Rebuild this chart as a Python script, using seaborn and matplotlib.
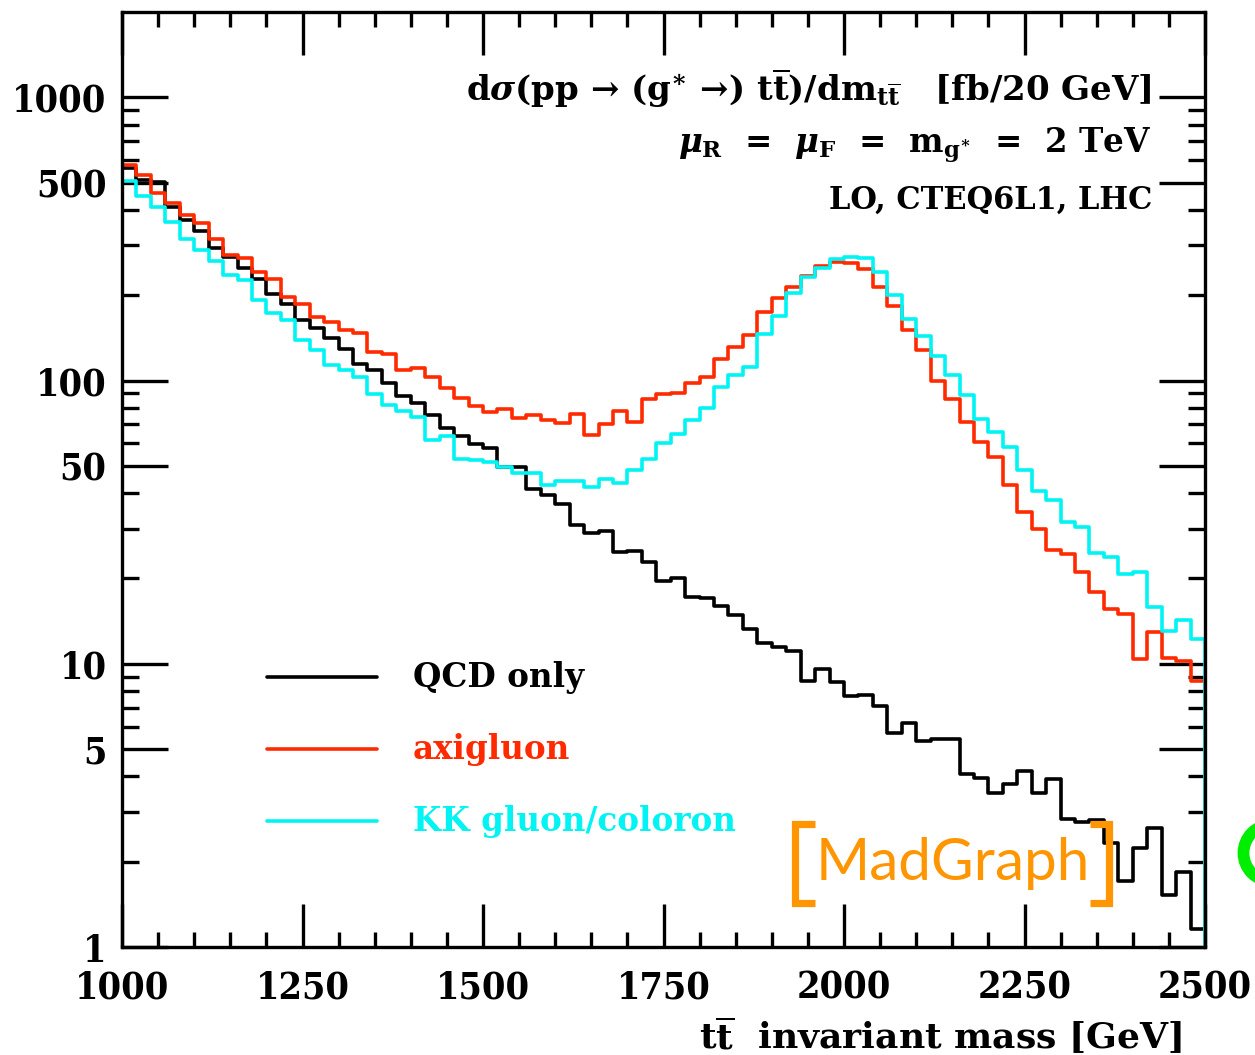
import numpy as np
import pandas as pd
import matplotlib
matplotlib.use("Agg")
import matplotlib.pyplot as plt
import matplotlib.patches as mpatches
from matplotlib.lines import Line2D
from matplotlib.ticker import FixedLocator, NullFormatter
import seaborn as sns

# ---------------- data (fb / 20 GeV bins, 1000-2500 GeV) ----------------
bin_edges = list(range(1000, 2501, 20))
qcd_only = [561, 510, 503, 410, 370, 338, 293, 272, 249, 228,
            202, 186, 163, 153, 141, 129, 114, 109, 98.2, 88.1,
            83.0, 75.5, 67.8, 63.6, 59.6, 57.6, 49.6, 49.4, 41.3, 39.4,
            36.6, 30.9, 28.9, 29.5, 24.9, 25.1, 22.9, 19.6, 20.1, 17.2,
            17.0, 16.0, 14.9, 13.3, 11.8, 11.5, 11.1, 8.71, 9.58, 8.63,
            7.69, 7.76, 7.09, 5.71, 6.16, 5.35, 5.41, 5.41, 4.07, 3.94,
            3.51, 3.76, 4.19, 3.51, 3.92, 2.82, 2.77, 2.80, 2.33, 1.71,
            2.23, 2.64, 1.53, 1.84, 1.16]
axigluon = [576, 531, 460, 422, 384, 359, 315, 277, 270, 242,
            229, 197, 187, 168, 161, 151, 147, 126, 124, 109,
            111, 103, 93.8, 86.5, 81.2, 77.5, 79.1, 73.8, 75.5, 72.5,
            70.9, 75.9, 64.2, 70.0, 78.0, 71.5, 85.8, 89.3, 90.5, 98.2,
            103, 119, 131, 145, 175, 196, 213, 234, 254, 262,
            259, 247, 214, 184, 151, 128, 99.8, 85.8, 71.5, 60.8,
            53.8, 42.7, 34.4, 29.8, 25.2, 24.5, 21.1, 17.9, 15.6, 15.0,
            10.4, 12.9, 10.5, 10.2, 8.71]
kk_gluon = [507, 448, 410, 363, 317, 289, 265, 235, 226, 192,
            173, 163, 139, 128, 113, 109, 103, 89.5, 81.9, 78.2,
            74.1, 61.9, 63.6, 52.7, 52.4, 51.6, 49.4, 47.0, 47.0, 42.7,
            44.3, 44.3, 42.2, 44.8, 43.5, 48.3, 52.7, 60.3, 64.7, 72.5,
            79.7, 95.0, 104.5, 112, 146, 169, 204, 232, 250, 268,
            272, 270, 242, 200, 165, 144, 122, 105, 88.8, 73.1,
            65.6, 58.1, 48.3, 40.8, 37.8, 31.7, 30.5, 24.7, 23.9, 20.7,
            21.1, 15.9, 13.1, 14.3, 12.2]
series_names = ["QCD only", "axigluon", "KK gluon/coloron"]
series_values = [qcd_only, axigluon, kk_gluon]
series_colors = ["#000000", "#ff2a00", "#00f4f4"]

x_ticks = [1000, 1250, 1500, 1750, 2000, 2250, 2500]
y_ticks = [1, 5, 10, 50, 100, 500, 1000]
y_tick_labels = ["1", "5", "10", "50", "100", "500", "1000"]

# ---------------- styling ----------------
sns.set_theme(style="ticks")
plt.rcParams["font.family"] = ["DejaVu Serif", "DejaVu Sans"]
plt.rcParams["font.weight"] = "bold"
plt.rcParams["text.color"] = "black"
plt.rcParams["xtick.color"] = "black"
plt.rcParams["ytick.color"] = "black"
plt.rcParams["xtick.labelcolor"] = "black"
plt.rcParams["ytick.labelcolor"] = "black"
plt.rcParams["mathtext.fontset"] = "custom"
plt.rcParams["mathtext.rm"] = "DejaVu Serif:bold"
plt.rcParams["mathtext.it"] = "DejaVu Serif:italic:bold"
plt.rcParams["mathtext.bf"] = "DejaVu Serif:bold"

W, H = 1255, 1055
fig = plt.figure(figsize=(W / 100, H / 100), dpi=100)
ax = fig.add_axes([122 / W, 1 - 947 / H, (1205 - 122) / W, (947 - 12) / H])

edges_arr = np.array(bin_edges, dtype=float)
centers = (edges_arr[:-1] + edges_arr[1:]) / 2
df = pd.DataFrame({"mass": np.tile(centers, 3),
                   "xsec": np.concatenate([np.asarray(v, float) for v in series_values]),
                   "model": np.repeat(series_names, len(centers))})

for name, col, vals in zip(series_names, series_colors, series_values):
    sub = df[df["model"] == name].reset_index(drop=True)
    sns.histplot(data=sub, x="mass", weights="xsec", bins=bin_edges,
                 element="step", fill=False, color=col, linewidth=2.6,
                 ax=ax, zorder=3)
    ax.vlines(bin_edges[0], 1e-3, vals[0], color=col, linewidth=2.6, zorder=3)
    ax.vlines(bin_edges[-1], 1e-3, vals[-1], color=col, linewidth=2.6, zorder=3)

ax.set_yscale("log")
ax.set_xlim(1000, 2500)
ax.set_ylim(1, 2000)
ax.set_xlabel("")
ax.set_ylabel("")

for s in ax.spines.values():
    s.set_linewidth(2.4)
    s.set_color("black")
    s.set_zorder(5)

ax.xaxis.set_major_locator(FixedLocator(x_ticks))
ax.xaxis.set_minor_locator(FixedLocator(list(range(1000, 2501, 50))))
minor_y = [m * 10 ** d for d in range(0, 4) for m in (2, 3, 4, 6, 7, 8, 9) if m * 10 ** d < 2000]
ax.yaxis.set_major_locator(FixedLocator(y_ticks))
ax.yaxis.set_minor_locator(FixedLocator(minor_y))
ax.yaxis.set_minor_formatter(NullFormatter())
ax.set_yticklabels(y_tick_labels)
ax.set_xticklabels([str(t) for t in x_ticks])

ax.tick_params(which="both", direction="in", top=True, right=True,
               color="black", labelcolor="black", width=2.4)
ax.tick_params(axis="x", which="major", length=31, pad=16)
ax.tick_params(axis="x", which="minor", length=11)
ax.tick_params(axis="y", which="major", length=33, pad=11)
ax.tick_params(axis="y", which="minor", length=12)
for lab in ax.get_xticklabels() + ax.get_yticklabels():
    lab.set_fontfamily("DejaVu Serif")
    lab.set_fontstretch("condensed")
    lab.set_fontweight("bold")
    lab.set_fontsize(27)
    lab.set_color("black")

serif = "DejaVu Serif"

# x-axis label
fig.text(1182 / W, 1 - 1035 / H, r"t$\overline{\mathrm{t}}$  invariant mass [GeV]",
         ha="right", va="center", fontsize=26, fontfamily=serif,
         fontweight="bold", color="black")

# annotations (top right)
fig.text(1152 / W, 1 - 88 / H,
         r"d$\sigma$(pp → (g$^{\ast}$ →) t$\overline{\mathrm{t}}$)/dm$_{\mathrm{t}\overline{\mathrm{t}}}$   [fb/20 GeV]",
         ha="right", va="center", fontsize=24.5, fontfamily=serif,
         fontweight="bold", color="black")
fig.text(1152 / W, 1 - 145 / H,
         r"$\mu_{\mathrm{R}}$  =  $\mu_{\mathrm{F}}$  =  m$_{\mathrm{g}^{\ast}}$  =  2 TeV",
         ha="right", va="center", fontsize=23.5, fontfamily=serif,
         fontweight="bold", color="black")
fig.text(1152 / W, 1 - 200 / H, "LO, CTEQ6L1, LHC",
         ha="right", va="center", fontsize=22, fontfamily=serif,
         fontweight="bold", color="black")

# legend (hand placed like the original)
for i, (name, col) in enumerate(zip(series_names, series_colors)):
    yy = 1 - (677 + 72 * i) / H
    fig.add_artist(Line2D([267 / W, 377 / W], [yy, yy], color=col, linewidth=2.6))
    fig.text(413 / W, yy, name, ha="left", va="center", fontsize=23.5,
             fontfamily=serif, fontweight="bold", color=col)

# MadGraph logo
orange = "#ff9500"
fig.text(816 / W, 1 - 864 / H, "MadGraph", ha="left", va="center",
         fontsize=42, fontfamily="Lato", color=orange, fontweight="normal")
lw_b = 5.2
for xv, xa in ((795, 815), (1109, 1090)):
    fig.add_artist(Line2D([xa / W, xv / W, xv / W, xa / W],
                          [1 - 824 / H, 1 - 824 / H, 1 - 903 / H, 1 - 903 / H],
                          color=orange, linewidth=lw_b, solid_joinstyle="miter",
                          solid_capstyle="butt"))
ring = mpatches.Circle((12.72, (H - 853) / 100), 0.285, fill=False,
                       edgecolor="#00ee00", linewidth=8.5,
                       transform=fig.dpi_scale_trans)
fig.add_artist(ring)

fig.savefig("out.png", dpi=100)
